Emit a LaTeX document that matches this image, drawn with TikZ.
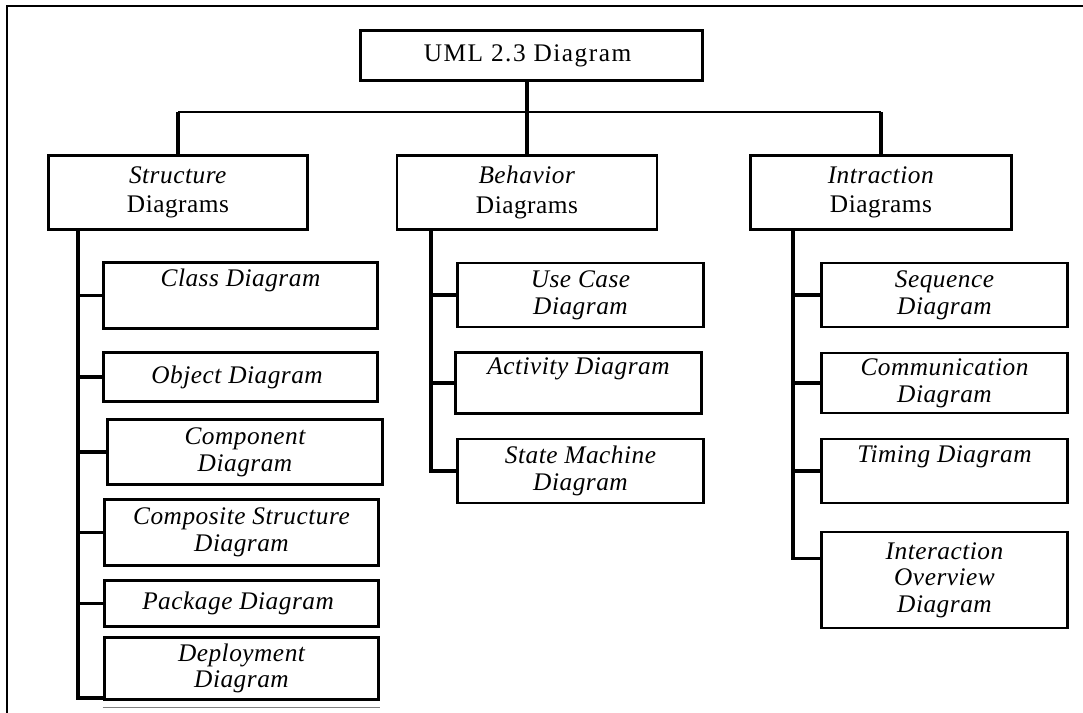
\documentclass[tikz,border=0pt]{standalone}
\usepackage{fontspec}
\setmainfont{Liberation Serif}[LetterSpace=2]
\tikzset{
  head/.style={draw, line width=2.2pt, align=center, inner sep=0pt,
    font=\fontsize{19}{20}\selectfont\addfontfeature{LetterSpace=6}},
  kind/.style={draw, line width=2.2pt, align=center, inner sep=0pt,
    minimum width=194pt, minimum height=56pt,
    font=\fontsize{19}{20}\selectfont},
  leaf/.style={draw, line width=2.2pt, align=center, inner sep=0pt,
    font=\fontsize{19}{20}\selectfont\itshape},
  sleaf/.style={leaf, minimum width=206pt},
  nleaf/.style={leaf, minimum width=184pt},
  wire/.style={line width=2.4pt},
  bus/.style={line width=1.6pt},
}
\begin{document}
\begin{tikzpicture}[x=0.75pt,y=-0.75pt]
      \useasboundingbox (0,0) rectangle (1083,713);
      % Frame
      \draw[line width=1.3pt] (1083,6) -| (7,713);
      % Nodes: root and kinds
      \node[head, minimum width=257pt, minimum height=37pt] (uml) at (531.5,55.5) { UML 2.3 Diagram };
      \node[kind] (struct) at (178,192.5) { \textit{Structure}\\[2pt] Diagrams };
      \node[kind, minimum width=195pt] (behav) at (527,192.5) { \textit{Behavior}\\[2pt] Diagrams };
      \node[kind, minimum width=196pt] (inter) at (881,192.5) { \textit{Intraction}\\[2pt] Diagrams };
      % Nodes: structure diagrams
      \node[sleaf, minimum height=49pt] (cls) at (240.5,295.5) { Class Diagram\\ \strut };
      \node[sleaf, minimum height=37pt] (obj) at (240.5,377) { Object Diagram };
      \node[sleaf, minimum height=49pt] (comp) at (245,452) { Component\\ Diagram };
      \node[sleaf, minimum height=49pt] (compo) at (241.5,532.5) { Composite Structure\\ Diagram };
      \node[sleaf, minimum height=35pt] (pkg) at (241.5,603.5) { Package Diagram };
      \node[sleaf, minimum height=46pt] (dep) at (241.5,668.5) { Deployment\\ Diagram };
      % Nodes: behavior diagrams
      \node[nleaf, minimum height=48pt] (uc) at (580.5,295) { Use Case\\ Diagram };
      \node[nleaf, minimum height=46pt] (act) at (578.5,383) { Activity Diagram\\ \strut };
      \node[nleaf, minimum height=48pt] (sm) at (580.5,471) { State Machine\\ Diagram };
      % Nodes: interaction diagrams
      \node[nleaf, minimum height=48pt] (seq) at (944.5,295) { Sequence\\ Diagram };
      \node[nleaf, minimum height=45pt] (comm) at (944.5,383) { Communication\\ Diagram };
      \node[nleaf, minimum height=48pt] (tim) at (944.5,471) { Timing Diagram\\ \strut };
      \node[nleaf, minimum height=72pt] (io) at (944.5,580) { Interaction\\ Overview\\ Diagram };
      % Lines: root to kinds
      \coordinate (split) at (527,112);
      \draw[wire] (uml.south -| split) -- (behav.north -| split);
      \draw[bus] (struct.north |- split) -- (inter.north |- split);
      \draw[wire] (struct.north) -- (struct.north |- split);
      \draw[wire] (inter.north) -- (inter.north |- split);
      % Lines: kinds to diagrams
      \coordinate (st) at (78,230);
      \coordinate (bt) at (431,230);
      \coordinate (it) at (793,230);
      \draw[wire] (st) |- ([yshift=2pt]dep.south west);
      \draw[wire] (bt) |- (sm.west);
      \draw[wire] (it) |- ([yshift=16pt]io.west);
      \foreach \n in {cls,obj,comp,compo,pkg} \draw[wire] (\n.west) -- (\n.west -| st);
      \foreach \n in {uc,act} \draw[wire] (\n.west) -- (\n.west -| bt);
      \foreach \n in {seq,comm,tim} \draw[wire] (\n.west) -- (\n.west -| it);
      \draw[gray, line width=1pt] ([yshift=-5pt]dep.south west) -- ([yshift=-5pt]dep.south east);
    \end{tikzpicture}
\end{document}
